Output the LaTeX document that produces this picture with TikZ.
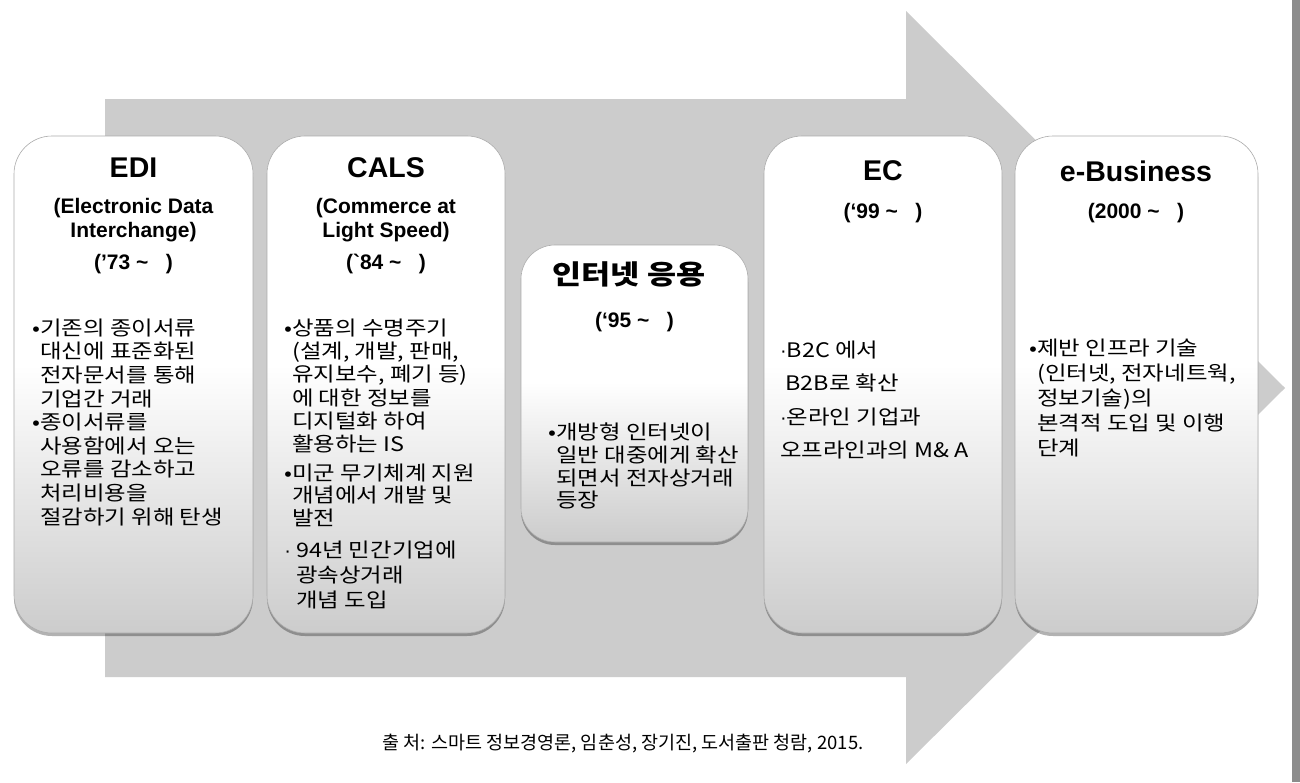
\documentclass[tikz,border=0pt]{standalone}
\usepackage{fontspec}
\setmainfont{Liberation Sans}
\newfontfamily\kr{Noto Sans CJK KR}
\newfontfamily\krw{Noto Sans CJK KR}[FakeStretch=1.17]
\usetikzlibrary{shadows}
\pgfdeclareverticalshading{boxshade}{100bp}{color(0bp)=(gray!40); color(25bp)=(gray!40); color(52bp)=(white); color(100bp)=(white)}
\definecolor{arrowgray}{HTML}{CCCCCC}
\definecolor{bargray}{HTML}{8C8C8C}
\newcommand{\mdot}{{\rmfamily\fontsize{20}{20}\selectfont ·}}
\begin{document}
\begin{tikzpicture}[x=1pt,y=-1pt,
  box/.style={rectangle, rounded corners=38pt, draw=gray!65, line width=0.6pt, shade, shading=boxshade,
    drop shadow={shadow xshift=0pt, shadow yshift=-3pt, fill=black, opacity=0.3}, inner sep=0pt},
  ttl/.style={font=\bfseries\fontsize{28.5}{34}\selectfont, anchor=center, inner sep=0pt},
  sub/.style={font=\bfseries\fontsize{21}{24}\selectfont, anchor=center, align=center, inner sep=0pt},
  body/.style={font=\krw\fontsize{20}{23.6}\selectfont, anchor=north west, align=left, inner sep=0pt},
  ]
\useasboundingbox (0,0) rectangle (1300,782);
\fill[white] (0,0) rectangle (1300,782);
% background arrow
\path[fill=arrowgray] (105,99) -- (906,99) -- (906,11) -- (1285,388) -- (906,764) -- (906,677) -- (105,677) -- cycle;
\fill[bargray] (1292,0) rectangle (1300,782);

% boxes
\node[box, minimum width=239pt, minimum height=497pt] (edi) at (133.5,384.5) {};
\node[box, minimum width=238pt, minimum height=497pt] (cals) at (386,384.5) {};
\node[box, rounded corners=34pt, minimum width=227pt, minimum height=297pt] (inet) at (634.5,393.5) {};
\node[box, minimum width=238pt, minimum height=497pt] (ec) at (883,384.5) {};
\node[box, minimum width=243pt, minimum height=497pt] (eb) at (1136.5,384.5) {};

% EDI
\node[ttl] (ediT) at (133.5,168) {EDI};
\node[sub] (ediS) at (133.5,220) {(Electronic Data\\Interchange)};
\node[sub] (ediY) at (133.5,264) {(’73 \textasciitilde\ \ \ )};
\node[body] (ediB) at (40,318.5) {\llap{•}기존의 종이서류\\대신에 표준화된\\전자문서를 통해\\기업간 거래\\\llap{•}종이서류를\\사용함에서 오는\\오류를 감소하고\\처리비용을\\절감하기 위해 탄생};

% CALS
\node[ttl] (calsT) at (386,168) {CALS};
\node[sub] (calsS) at (386,220) {(Commerce at\\Light Speed)};
\node[sub] (calsY) at (386,264) {(\textasciigrave 84 \textasciitilde\ \ \ )};
\node[body, font=\krw\fontsize{20}{23.3}\selectfont] (calsB1) at (292,318.5) {\llap{•}상품의 수명주기\\(설계, 개발, 판매,\\유지보수, 폐기 등)\\에 대한 정보를\\디지털화 하여\\활용하는 IS};
\node[body, font=\krw\fontsize{20}{22.5}\selectfont] (calsB2) at (292,463.5) {\llap{•}미군 무기체계 지원\\개념에서 개발 및\\발전};
\node[body, font=\krw\fontsize{20}{25}\selectfont] (calsB3) at (296,540.5) {\llap{\mdot\ }94년 민간기업에\\광속상거래\\개념 도입};

% Internet
\node[font=\krw\bfseries\fontsize{27}{30}\selectfont, inner sep=0pt] (inetT) at (629,274) {인터넷 응용};
\node[sub] (inetY) at (634.5,322) {(‘95 \textasciitilde\ \ \ )};
\node[body, font=\krw\fontsize{20}{22.8}\selectfont] (inetB) at (556,422.5) {\llap{•}개방형 인터넷이\\일반 대중에게 확산\\되면서 전자상거래\\등장};

% EC
\node[ttl] (ecT) at (883,171) {EC};
\node[sub] (ecY) at (883,213) {(‘99 \textasciitilde\ \ \ )};
\node[body, font=\krw\fontsize{20}{33.5}\selectfont] (ecB) at (780,340.5) {\mdot B2C 에서\\\ B2B로 확산\\\mdot 온라인 기업과\\오프라인과의 M\& A};

% e-Business
\node[ttl] (ebT) at (1136,171) {e-Business};
\node[sub] (ebY) at (1136,213) {(2000 \textasciitilde\ \ \ )};
\node[body, font=\krw\fontsize{20}{25}\selectfont] (ebB) at (1037,338.5) {\llap{•}제반 인프라 기술\\(인터넷, 전자네트웍,\\정보기술)의\\본격적 도입 및 이행\\단계};

% footer
\node[font=\kr\fontsize{18.5}{20}\selectfont, inner sep=0pt] (src) at (623,744) {출 처: 스마트 정보경영론, 임춘성, 장기진, 도서출판 청람, 2015.};
\end{tikzpicture}
\end{document}
